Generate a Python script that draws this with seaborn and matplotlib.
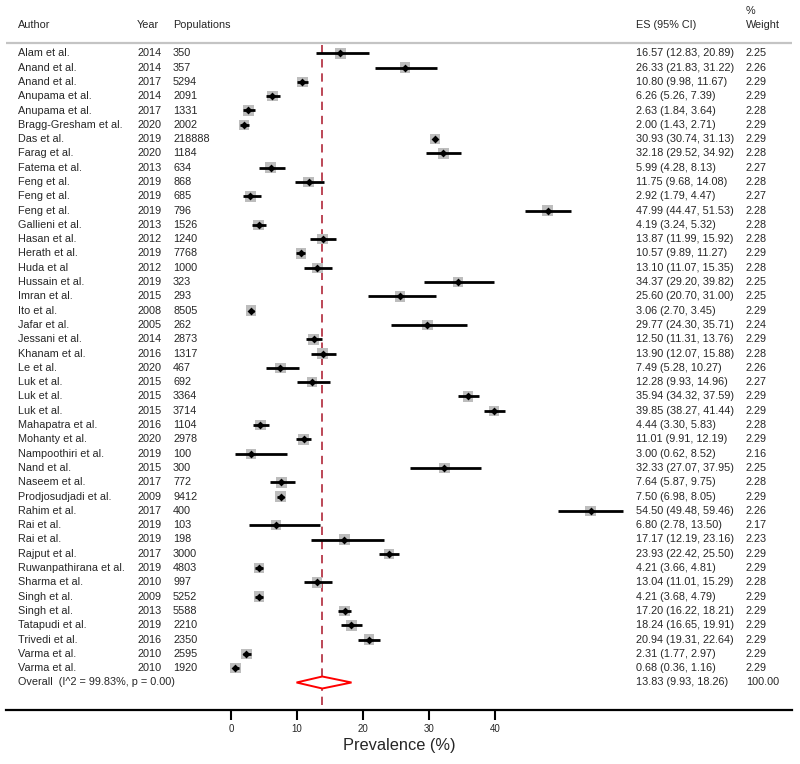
import matplotlib
matplotlib.use("Agg")
import matplotlib.pyplot as plt
import numpy as np
import seaborn as sns
from matplotlib.patches import Polygon

authors = [
    "Alam et al.", "Anand et al.", "Anand et al.", "Anupama et al.", "Anupama et al.",
    "Bragg-Gresham et al.", "Das et al.", "Farag et al.", "Fatema et al.", "Feng et al.",
    "Feng et al.", "Feng et al.", "Gallieni et al.", "Hasan et al.", "Herath et al.",
    "Huda et al", "Hussain et al.", "Imran et al.", "Ito et al.", "Jafar et al.",
    "Jessani et al.", "Khanam et al.", "Le et al.", "Luk et al.", "Luk et al.",
    "Luk et al.", "Mahapatra et al.", "Mohanty et al.", "Nampoothiri et al.", "Nand et al.",
    "Naseem et al.", "Prodjosudjadi et al.", "Rahim et al.", "Rai et al.", "Rai et al.",
    "Rajput et al.", "Ruwanpathirana et al.", "Sharma et al.", "Singh et al.", "Singh et al.",
    "Tatapudi et al.", "Trivedi et al.", "Varma et al.", "Varma et al.",
]
years = [
    2014, 2014, 2017, 2014, 2017, 2020, 2019, 2020, 2013, 2019,
    2019, 2019, 2013, 2012, 2019, 2012, 2019, 2015, 2008, 2005,
    2014, 2016, 2020, 2015, 2015, 2015, 2016, 2020, 2019, 2015,
    2017, 2009, 2017, 2019, 2019, 2017, 2019, 2010, 2009, 2013,
    2019, 2016, 2010, 2010,
]
populations = [
    350, 357, 5294, 2091, 1331, 2002, 218888, 1184, 634, 868,
    685, 796, 1526, 1240, 7768, 1000, 323, 293, 8505, 262,
    2873, 1317, 467, 692, 3364, 3714, 1104, 2978, 100, 300,
    772, 9412, 400, 103, 198, 3000, 4803, 997, 5252, 5588,
    2210, 2350, 2595, 1920,
]
es = [
    16.57, 26.33, 10.80, 6.26, 2.63, 2.00, 30.93, 32.18, 5.99, 11.75,
    2.92, 47.99, 4.19, 13.87, 10.57, 13.10, 34.37, 25.60, 3.06, 29.77,
    12.50, 13.90, 7.49, 12.28, 35.94, 39.85, 4.44, 11.01, 3.00, 32.33,
    7.64, 7.50, 54.50, 6.80, 17.17, 23.93, 4.21, 13.04, 4.21, 17.20,
    18.24, 20.94, 2.31, 0.68,
]
ci_low = [
    12.83, 21.83, 9.98, 5.26, 1.84, 1.43, 30.74, 29.52, 4.28, 9.68,
    1.79, 44.47, 3.24, 11.99, 9.89, 11.07, 29.20, 20.70, 2.70, 24.30,
    11.31, 12.07, 5.28, 9.93, 34.32, 38.27, 3.30, 9.91, 0.62, 27.07,
    5.87, 6.98, 49.48, 2.78, 12.19, 22.42, 3.66, 11.01, 3.68, 16.22,
    16.65, 19.31, 1.77, 0.36,
]
ci_high = [
    20.89, 31.22, 11.67, 7.39, 3.64, 2.71, 31.13, 34.92, 8.13, 14.08,
    4.47, 51.53, 5.32, 15.92, 11.27, 15.35, 39.82, 31.00, 3.45, 35.71,
    13.76, 15.88, 10.27, 14.96, 37.59, 41.44, 5.83, 12.19, 8.52, 37.95,
    9.75, 8.05, 59.46, 13.50, 23.16, 25.50, 4.81, 15.29, 4.79, 18.21,
    19.91, 22.64, 2.97, 1.16,
]
weights = [
    2.25, 2.26, 2.29, 2.29, 2.28, 2.29, 2.29, 2.28, 2.27, 2.28,
    2.27, 2.28, 2.28, 2.28, 2.29, 2.28, 2.25, 2.25, 2.29, 2.24,
    2.29, 2.28, 2.26, 2.27, 2.29, 2.29, 2.28, 2.29, 2.16, 2.25,
    2.28, 2.29, 2.26, 2.17, 2.23, 2.29, 2.29, 2.28, 2.29, 2.29,
    2.29, 2.29, 2.29, 2.29,
]
overall_label = "Overall  (I^2 = 99.83%, p = 0.00)"
overall_es, overall_low, overall_high = 13.83, 9.93, 18.26
x_ticks = [0, 10, 20, 30, 40]

sns.set_style("white")
plt.rcParams["font.family"] = ["Liberation Sans", "DejaVu Sans"]


# pixel -> data helpers for the layout (0 at px 231, 6.6 px per unit)
def px_x(px):
    return (px - 231) / 6.6


def px_row(py):
    return (py - 53.3) / 14.3


fig = plt.figure(figsize=(8, 7.64), dpi=100)
ax = fig.add_axes([6 / 800, 54 / 764, 786 / 800, 710 / 764])
ax.set_xlim(px_x(6), px_x(792))
ax.set_ylim(px_row(710), px_row(0))

rows = np.arange(len(es))
overall_row = len(es)

fs = 7.8
# study boxes, CI lines, point estimates
sns.scatterplot(x=es, y=rows, marker="s", s=np.array(weights) * 25, color="#bdbdbd",
                linewidth=0, ax=ax, legend=False, zorder=2)
ax.hlines(rows, ci_low, ci_high, color="black", linewidth=2.0, zorder=3)
sns.scatterplot(x=es, y=rows, marker="D", s=16, color="black", linewidth=0,
                ax=ax, legend=False, zorder=4)

# overall diamond and reference line
diamond = Polygon([(overall_low, overall_row), (overall_es, overall_row - 0.42),
                   (overall_high, overall_row), (overall_es, overall_row + 0.42)],
                  closed=True, facecolor="white", edgecolor="red", linewidth=1.4, zorder=4)
ax.add_patch(diamond)
ax.vlines(overall_es, px_row(45), px_row(710), color="#b0283a", linewidth=1.2,
          linestyles=(0, (5, 3.5)), zorder=1)

# header
ax.hlines(px_row(43), px_x(6), px_x(792), color="#c4c4c4", linewidth=1.6, clip_on=False)
hy = px_row(25)
ax.text(px_x(18), hy, "Author", fontsize=fs, va="center")
ax.text(px_x(137), hy, "Year", fontsize=fs, va="center")
ax.text(px_x(173), hy, "Populations", fontsize=fs, va="center")
ax.text(px_x(636), hy, "ES (95% CI)", fontsize=fs, va="center")
ax.text(px_x(746), hy, "Weight", fontsize=fs, va="center")
ax.text(px_x(746), px_row(11), "%", fontsize=fs, va="center")

for i in rows:
    ax.text(px_x(18), i, authors[i], fontsize=fs, va="center")
    ax.text(px_x(137), i, str(years[i]), fontsize=fs, va="center")
    ax.text(px_x(173), i, str(populations[i]), fontsize=fs, va="center")
    ax.text(px_x(636), i, f"{es[i]:.2f} ({ci_low[i]:.2f}, {ci_high[i]:.2f})",
            fontsize=fs, va="center")
    ax.text(px_x(746), i, f"{weights[i]:.2f}", fontsize=fs, va="center")

ax.text(px_x(18), overall_row, overall_label, fontsize=fs, va="center")
ax.text(px_x(636), overall_row,
        f"{overall_es:.2f} ({overall_low:.2f}, {overall_high:.2f})", fontsize=fs, va="center")
ax.text(px_x(746), overall_row, "100.00", fontsize=fs, va="center")

# axis
for side in ["top", "left", "right"]:
    ax.spines[side].set_visible(False)
ax.spines["bottom"].set_linewidth(1.6)
ax.spines["bottom"].set_color("black")
ax.set_yticks([])
ax.set_xticks(x_ticks)
ax.tick_params(axis="x", direction="out", length=7, width=1.5, pad=3,
               labelsize=7, bottom=True, color="black")
ax.set_xlabel("Prevalence (%)", fontsize=11.8)
ax.xaxis.set_label_coords(0.5, -28 / 710)

fig.savefig("out.png", dpi=100)
plt.close(fig)
